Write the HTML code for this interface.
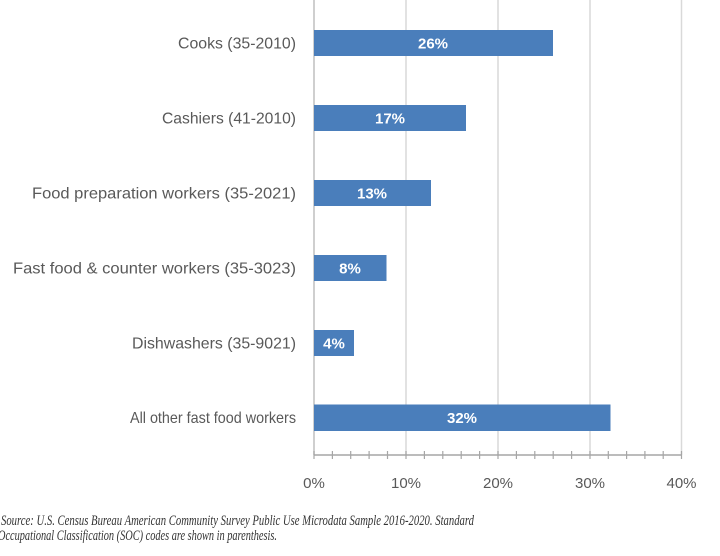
<!DOCTYPE html>
<html><head><meta charset="utf-8"><style>
html,body{margin:0;padding:0;background:#fff;}
svg{display:block;}
</style></head><body>
<svg width="720" height="556" viewBox="0 0 720 556" xmlns="http://www.w3.org/2000/svg">
<rect width="720" height="556" fill="#fff"/>
<g stroke="#d9d9d9" stroke-width="1.5">
<line x1="406" y1="0" x2="406" y2="455"/>
<line x1="498" y1="0" x2="498" y2="455"/>
<line x1="590" y1="0" x2="590" y2="455"/>
<line x1="681.5" y1="0" x2="681.5" y2="455"/>
</g>
<line x1="314" y1="0" x2="314" y2="455" stroke="#bfbfbf" stroke-width="1.5"/>
<g fill="#4a7ebb">
<rect x="314" y="30" width="239" height="26"/>
<rect x="314" y="105" width="152" height="26"/>
<rect x="314" y="180" width="117" height="26"/>
<rect x="314" y="255" width="72.5" height="26"/>
<rect x="314" y="330" width="40" height="26"/>
<rect x="314" y="404.5" width="296.5" height="26.5"/>
</g>
<g font-family="Liberation Sans, Arial, sans-serif" font-weight="bold" font-size="15" fill="#fff" text-anchor="middle">
<text x="433" y="48.5">26%</text>
<text x="390" y="123.5">17%</text>
<text x="372" y="198.5">13%</text>
<text x="350" y="273.5">8%</text>
<text x="334" y="348.5">4%</text>
<text x="462" y="423">32%</text>
</g>
<g font-family="Liberation Sans, Arial, sans-serif" font-size="16" fill="#595959" text-anchor="end">
<text x="296" y="48.5" textLength="118" lengthAdjust="spacingAndGlyphs">Cooks (35-2010)</text>
<text x="296" y="123.5" textLength="134" lengthAdjust="spacingAndGlyphs">Cashiers (41-2010)</text>
<text x="296" y="198.5" textLength="264" lengthAdjust="spacingAndGlyphs">Food preparation workers (35-2021)</text>
<text x="296" y="273.5" textLength="283" lengthAdjust="spacingAndGlyphs">Fast food &amp; counter workers (35-3023)</text>
<text x="296" y="348.5" textLength="164" lengthAdjust="spacingAndGlyphs">Dishwashers (35-9021)</text>
<text x="296" y="423" textLength="166" lengthAdjust="spacingAndGlyphs">All other fast food workers</text>
</g>
<line x1="314" y1="455" x2="681.5" y2="455" stroke="#a6a6a6" stroke-width="1.5"/>
<g stroke="#a6a6a6" stroke-width="1.2">
<line x1="314" y1="451" x2="314" y2="459"/>
<line x1="332.4" y1="451" x2="332.4" y2="459"/>
<line x1="350.7" y1="451" x2="350.7" y2="459"/>
<line x1="369.1" y1="451" x2="369.1" y2="459"/>
<line x1="387.5" y1="451" x2="387.5" y2="459"/>
<line x1="406" y1="451" x2="406" y2="459"/>
<line x1="424.4" y1="451" x2="424.4" y2="459"/>
<line x1="442.8" y1="451" x2="442.8" y2="459"/>
<line x1="461.2" y1="451" x2="461.2" y2="459"/>
<line x1="479.6" y1="451" x2="479.6" y2="459"/>
<line x1="498" y1="451" x2="498" y2="459"/>
<line x1="516.4" y1="451" x2="516.4" y2="459"/>
<line x1="534.8" y1="451" x2="534.8" y2="459"/>
<line x1="553.2" y1="451" x2="553.2" y2="459"/>
<line x1="571.6" y1="451" x2="571.6" y2="459"/>
<line x1="590" y1="451" x2="590" y2="459"/>
<line x1="608.3" y1="451" x2="608.3" y2="459"/>
<line x1="626.6" y1="451" x2="626.6" y2="459"/>
<line x1="644.9" y1="451" x2="644.9" y2="459"/>
<line x1="663.2" y1="451" x2="663.2" y2="459"/>
<line x1="681.5" y1="451" x2="681.5" y2="459"/>
</g>
<g font-family="Liberation Sans, Arial, sans-serif" font-size="15" fill="#595959" text-anchor="middle">
<text x="314" y="488">0%</text>
<text x="406" y="488">10%</text>
<text x="498" y="488">20%</text>
<text x="590" y="488">30%</text>
<text x="681.5" y="488">40%</text>
</g>
<g font-family="Liberation Serif, Times New Roman, serif" font-style="italic" font-size="14.5" fill="#333">
<text x="1" y="525" textLength="473" lengthAdjust="spacingAndGlyphs">Source: U.S. Census Bureau American Community Survey Public Use Microdata Sample 2016-2020. Standard</text>
<text x="-2" y="540" textLength="279" lengthAdjust="spacingAndGlyphs">Occupational Classification (SOC) codes are shown in parenthesis.</text>
</g>
</svg>
</body></html>
